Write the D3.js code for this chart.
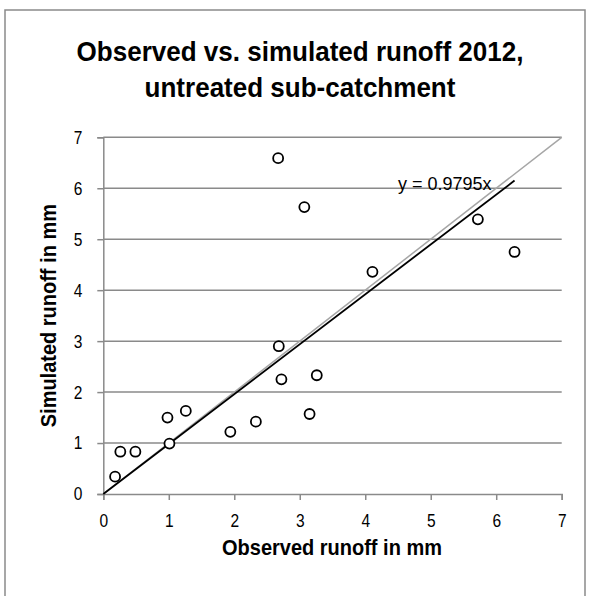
<!DOCTYPE html>
<html>
<head>
<meta charset="utf-8">
<script src="https://cdn.jsdelivr.net/npm/d3@7"></script>
<style>
  html, body { margin: 0; padding: 0; background: #fff; }
  svg { display: block; }
  text { font-family: "Liberation Sans", Arial, sans-serif; fill: #000; }
</style>
</head>
<body>
<svg id="chart" width="590" height="596"></svg>
<script>
// ---- data ----
const observed  = [0.18, 0.26, 0.49, 0.98, 1.01, 1.26, 1.94, 2.33, 2.67, 2.68, 2.72, 3.07, 3.15, 3.26, 4.11, 5.72, 6.28];
const simulated = [0.34, 0.83, 0.83, 1.50, 0.99, 1.63, 1.22, 1.42, 6.59, 2.90, 2.25, 5.63, 1.57, 2.33, 4.36, 5.39, 4.75];
const xTicks = [0, 1, 2, 3, 4, 5, 6, 7];
const yTicks = [0, 1, 2, 3, 4, 5, 6, 7];
const trendSlope = 0.9795;
const titleLines = ["Observed vs. simulated runoff 2012,", "untreated sub-catchment"];
const xTitle = "Observed runoff in mm";
const yTitle = "Simulated runoff in mm";
const trendLabel = "y = 0.9795x";

const svg = d3.select("#chart");
const gridColor = "#8a8a8a";
const tickScale = 0.84;

// frame
svg.append("rect").attr("x", 5).attr("y", 10).attr("width", 580).attr("height", 600)
  .attr("fill", "#fff").attr("stroke", "#8a8a8a").attr("stroke-width", 1.5);

const pLeft = 103.3, pRight = 561.7, pTop = 137.3, pBottom = 494;
const x = d3.scaleLinear().domain([0, 7]).range([pLeft, pRight]);
const y = d3.scaleLinear().domain([0, 7]).range([pBottom, pTop]);

// title
svg.append("g").attr("transform", "translate(300,0) scale(0.93,1)")
  .append("text").attr("text-anchor", "middle")
  .style("font-weight", "bold").style("font-size", "28px")
  .selectAll("tspan").data(titleLines).join("tspan")
  .attr("x", 0).attr("y", (d, i) => 61 + i * 36).text(d => d);

// gridlines
svg.append("g").selectAll("line").data(yTicks.filter(d => d > 0)).join("line")
  .attr("x1", pLeft).attr("x2", pRight).attr("y1", d => y(d)).attr("y2", d => y(d))
  .attr("stroke", gridColor).attr("stroke-width", 1.5);

// y axis
const yAxis = svg.append("g").attr("transform", `translate(${pLeft},0)`)
  .call(d3.axisLeft(y).tickValues(yTicks).tickSize(6).tickPadding(15).tickFormat(d3.format("d")));
yAxis.select(".domain").attr("stroke", gridColor).attr("stroke-width", 1.5);
yAxis.selectAll(".tick line").attr("stroke", gridColor).attr("stroke-width", 1.5);
yAxis.selectAll(".tick text").style("font-size", "18.5px").attr("fill", "#000")
  .attr("x", -21 / tickScale).attr("transform", `scale(${tickScale},1)`);

// x axis
const xAxis = svg.append("g").attr("transform", `translate(0,${pBottom})`)
  .call(d3.axisBottom(x).tickValues(xTicks).tickSize(6).tickPadding(14).tickFormat(d3.format("d")));
xAxis.select(".domain").attr("stroke", gridColor).attr("stroke-width", 1.5);
xAxis.selectAll(".tick line").attr("stroke", gridColor).attr("stroke-width", 1.5);
xAxis.selectAll(".tick text").style("font-size", "18.5px").attr("fill", "#000")
  .attr("transform", `scale(${tickScale},1)`);

// 1:1 line
svg.append("line").attr("x1", x(0)).attr("y1", y(0)).attr("x2", x(7)).attr("y2", y(7))
  .attr("stroke", "#a6a6a6").attr("stroke-width", 1.5);

// trendline
const xMax = d3.max(observed);
svg.append("line").attr("x1", x(0)).attr("y1", y(0)).attr("x2", x(xMax)).attr("y2", y(trendSlope * xMax))
  .attr("stroke", "#000").attr("stroke-width", 1.8);

// points
const pts = observed.map((d, i) => ({ o: d, s: simulated[i] }));
svg.append("g").selectAll("circle").data(pts).join("circle")
  .attr("cx", d => x(d.o)).attr("cy", d => y(d.s)).attr("r", 5)
  .attr("fill", "#fff").attr("stroke", "#000").attr("stroke-width", 1.8);

// trend label
svg.append("text").attr("x", 398).attr("y", 189.5).style("font-size", "18px").text(trendLabel);

// axis titles
svg.append("g").attr("transform", "translate(332,555) scale(0.93,1)")
  .append("text").attr("text-anchor", "middle")
  .style("font-weight", "bold").style("font-size", "21.5px").text(xTitle);
svg.append("g").attr("transform", `translate(56,${(pTop + pBottom) / 2}) rotate(-90) scale(0.93,1)`)
  .append("text").attr("text-anchor", "middle")
  .style("font-weight", "bold").style("font-size", "21.5px").text(yTitle);
</script>
</body>
</html>
